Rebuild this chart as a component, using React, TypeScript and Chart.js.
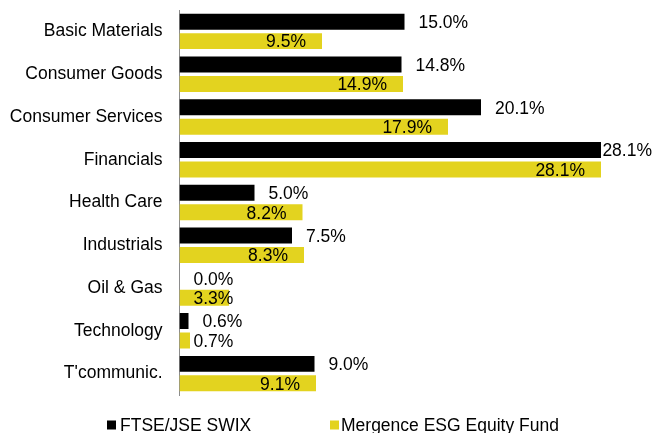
import React, { useEffect, useRef } from "react";
import { Chart, registerables } from "chart.js";

Chart.register(...registerables);

const categories = [
  "Basic Materials",
  "Consumer Goods",
  "Consumer Services",
  "Financials",
  "Health Care",
  "Industrials",
  "Oil & Gas",
  "Technology",
  "T'communic.",
];
const swixValues = [15.0, 14.8, 20.1, 28.1, 5.0, 7.5, 0.0, 0.6, 9.0];
const fundValues = [9.5, 14.9, 17.9, 28.1, 8.2, 8.3, 3.3, 0.7, 9.1];
const seriesNames = ["FTSE/JSE SWIX", "Mergence ESG Equity Fund"];

const BLACK = "#000000";
const YELLOW = "#E3D31F";
const FONT_FAMILY = "'Liberation Sans', Arial, sans-serif";
const FONT_SIZE = 17.5;

const labelPlugin = {
  id: "valueLabels",
  afterDatasetsDraw(chart: any) {
    const ctx = chart.ctx;
    ctx.save();
    ctx.font = `${FONT_SIZE}px ${FONT_FAMILY}`;
    ctx.fillStyle = "#000";
    ctx.textBaseline = "middle";
    chart.data.datasets.forEach((ds: any, di: number) => {
      const meta = chart.getDatasetMeta(di);
      meta.data.forEach((bar: any, i: number) => {
        const v = ds.data[i] as number;
        const txt = v.toFixed(1) + "%";
        const w = ctx.measureText(txt).width;
        if (di === 0) {
          ctx.textAlign = "left";
          const x = Math.min(bar.x + 14, chart.width - 2 - w);
          ctx.fillText(txt, x, bar.y + 1.5);
        } else {
          ctx.textAlign = "right";
          const x = Math.max(bar.x - 16, bar.base + 14 + w);
          ctx.fillText(txt, x, bar.y + 1.5);
        }
      });
    });
    ctx.restore();
  },
};

const legendPlugin = {
  id: "customLegend",
  afterDraw(chart: any) {
    const ctx = chart.ctx;
    ctx.save();
    ctx.font = `${FONT_SIZE}px ${FONT_FAMILY}`;
    ctx.textBaseline = "middle";
    ctx.textAlign = "left";
    const y = 425;
    const xs = [107, 330];
    const gaps = [4, 2];
    chart.data.datasets.forEach((ds: any, di: number) => {
      ctx.fillStyle = ds.backgroundColor;
      ctx.fillRect(xs[di], y - 4.5, 9, 9);
      ctx.fillStyle = "#000";
      ctx.fillText(ds.label, xs[di] + 9 + gaps[di], y + 1);
    });
    ctx.restore();
  },
};

export default function App() {
  const ref = useRef<HTMLCanvasElement | null>(null);
  useEffect(() => {
    if (!ref.current) return;
    const chart = new Chart(ref.current, {
      type: "bar",
      data: {
        labels: categories,
        datasets: [
          {
            label: seriesNames[0],
            data: swixValues,
            backgroundColor: BLACK,
            borderWidth: 0,
            barPercentage: 0.82,
            categoryPercentage: 0.91,
          },
          {
            label: seriesNames[1],
            data: fundValues,
            backgroundColor: YELLOW,
            borderWidth: 0,
            barPercentage: 0.82,
            categoryPercentage: 0.91,
          },
        ],
      },
      options: {
        indexAxis: "y",
        animation: false,
        responsive: false,
        maintainAspectRatio: false,
        layout: { padding: { left: 0, right: 24.5, top: 10, bottom: 38 } },
        plugins: {
          legend: { display: false },
          tooltip: { enabled: false },
        },
        scales: {
          x: {
            display: false,
            min: 0,
            max: 30,
          },
          y: {
            afterFit: (scale: any) => {
              scale.width = 179.5;
              scale.paddingTop = 0;
              scale.paddingBottom = 0;
            },
            grid: { display: false, drawTicks: false },
            border: { display: true, color: "#8c8c8c", width: 1 },
            ticks: {
              color: "#000",
              padding: 17,
              font: { family: FONT_FAMILY, size: FONT_SIZE },
            },
          },
        },
      },
      plugins: [labelPlugin, legendPlugin],
    });
    return () => chart.destroy();
  }, []);
  return (
    <div style={{ position: "absolute", left: 0, top: 0, width: 654, height: 433, background: "#fff" }}>
      <canvas ref={ref} width={654} height={433} style={{ display: "block" }} />
    </div>
  );
}
